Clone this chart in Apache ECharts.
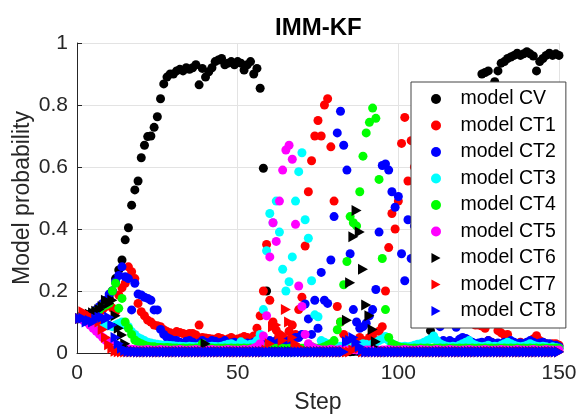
<!DOCTYPE html>
<html>
<head>
<meta charset="utf-8">
<script src="https://cdn.jsdelivr.net/npm/echarts@6/dist/echarts.min.js"></script>
<style>
  html, body { margin: 0; padding: 0; background: #fff; }
  #chart { width: 576px; height: 415px; }
</style>
</head>
<body>
<div id="chart"></div>
<script>
// model probabilities per step (1..150)
const modelCV = [
  .111,.11,.112,.118,.125,.13,.14,.155,.165,.18,
  .2,.24,.268,.3,.365,.404,.477,.526,.555,.63,
  .67,.698,.7,.728,.762,.82,.868,.89,.9,.9,
  .91,.915,.91,.92,.915,.92,.93,.865,.918,.89,
  .907,.92,.94,.945,.95,.93,.935,.94,.93,.94,
  .935,.913,.93,.94,.9,.918,.854,.596,.2,.02,
  .008,.005,.004,.005,.004,.005,.004,.006,.005,.004,
  .005,.004,.005,.004,.006,.005,.004,.005,.004,.005,
  .004,.005,.004,.005,.004,.005,.006,.004,.005,.004,
  .005,.004,.005,.004,.005,.004,.005,.004,.005,.004,
  .005,.004,.005,.006,.005,.004,.005,.006,.005,.072,
  .15,.22,.3,.38,.46,.55,.62,.7,.75,.78,
  .8,.82,.84,.86,.86,.9,.905,.91,.86,.875,
  .91,.935,.94,.95,.955,.96,.967,.96,.965,.972,
  .965,.958,.91,.94,.95,.96,.967,.96,.965,.96
];
const modelCT1 = [
  .111,.11,.108,.112,.118,.125,.13,.14,.15,.155,
  .145,.133,.187,.21,.225,.278,.262,.24,.16,.133,
  .12,.106,.1,.09,.088,.085,.075,.069,.065,.061,
  .069,.066,.063,.06,.063,.063,.058,.09,.05,.048,
  .047,.045,.044,.05,.047,.04,.045,.05,.042,.045,
  .048,.053,.05,.045,.055,.08,.12,.2,.35,.17,
  .1,.074,.06,.053,.042,.07,.09,.06,.14,.18,
  .345,.52,.62,.7,.75,.7,.8,.82,.665,.49,
  .15,.1,.06,.04,.03,.035,.03,.05,.04,.035,
  .05,.06,.04,.07,.085,.2,.34,.45,.4,.49,
  .676,.76,.555,.685,.6,.52,.45,.32,.3,.25,
  .22,.2,.18,.17,.15,.14,.13,.12,.12,.11,
  .1,.1,.095,.09,.09,.087,.08,.04,.035,.03,
  .072,.065,.058,.06,.035,.03,.03,.035,.03,.03,
  .035,.045,.056,.04,.035,.03,.028,.03,.03,.025
];
const modelCT2 = [
  .111,.115,.12,.125,.13,.14,.15,.16,.17,.19,
  .2,.23,.25,.278,.246,.24,.139,.225,.19,.187,
  .18,.176,.17,.139,.139,.076,.06,.05,.045,.04,
  .04,.035,.03,.038,.04,.035,.03,.032,.04,.035,
  .03,.04,.038,.032,.035,.04,.03,.032,.035,.03,
  .035,.03,.032,.03,.035,.03,.03,.03,.035,.04,
  .035,.04,.035,.03,.035,.04,.04,.05,.05,.06,
  .158,.11,.06,.17,.08,.26,.17,.16,.3,.44,
  .71,.78,.67,.59,.32,.14,.1,.08,.085,.096,
  .12,.14,.205,.39,.605,.61,.59,.52,.47,.505,
  .32,.233,.43,.305,.41,.35,.3,.25,.2,.15,
  .12,.11,.085,.04,.035,.04,.035,.083,.044,.05,
  .047,.04,.035,.03,.032,.035,.03,.04,.035,.03,
  .032,.03,.035,.03,.04,.035,.03,.032,.03,.035,
  .04,.035,.03,.032,.035,.03,.03,.025,.025,.02
];
const modelCT3 = [
  .111,.11,.108,.105,.1,.098,.095,.09,.09,.088,
  .085,.09,.095,.1,.09,.085,.069,.06,.05,.045,
  .04,.035,.032,.03,.028,.027,.025,.025,.024,.023,
  .022,.022,.021,.02,.022,.021,.02,.022,.02,.021,
  .02,.022,.021,.02,.022,.025,.028,.03,.025,.022,
  .036,.03,.025,.028,.03,.04,.06,.14,.33,.45,
  .42,.49,.39,.27,.2,.23,.31,.49,.585,.646,
  .43,.37,.233,.123,.117,.04,.035,.03,.025,.022,
  .02,.022,.02,.025,.022,.02,.022,.025,.03,.028,
  .025,.03,.035,.04,.045,.053,.04,.03,.025,.022,
  .02,.022,.02,.022,.025,.028,.03,.035,.04,.045,
  .055,.04,.03,.025,.022,.02,.022,.02,.025,.03,
  .035,.04,.03,.025,.022,.02,.022,.025,.02,.022,
  .02,.025,.03,.035,.03,.025,.022,.02,.022,.025,
  .03,.025,.022,.02,.022,.02,.018,.02,.018,.015
];
const modelCT4 = [
  .111,.115,.12,.125,.13,.135,.14,.15,.155,.16,
  .2,.225,.144,.176,.1,.08,.06,.042,.035,.03,
  .025,.022,.02,.02,.018,.018,.017,.018,.017,.016,
  .016,.015,.016,.015,.016,.015,.016,.015,.03,.016,
  .015,.016,.015,.016,.015,.016,.015,.016,.015,.016,
  .015,.016,.015,.016,.015,.016,.02,.02,.015,.014,
  .014,.015,.014,.015,.014,.015,.014,.015,.014,.015,
  .016,.018,.02,.016,.015,.016,.02,.025,.03,.04,
  .075,.1,.22,.295,.44,.42,.41,.52,.635,.71,
  .744,.79,.757,.56,.305,.14,.05,.03,.025,.02,
  .018,.017,.016,.015,.016,.015,.016,.015,.016,.015,
  .016,.015,.016,.015,.016,.015,.016,.015,.016,.015,
  .016,.015,.016,.015,.016,.015,.016,.015,.016,.015,
  .016,.015,.016,.015,.016,.015,.016,.015,.016,.015,
  .016,.015,.016,.015,.016,.015,.016,.015,.016,.015
];
const modelCT5 = [
  .111,.105,.1,.09,.08,.07,.06,.05,.04,.035,
  .03,.025,.02,.018,.015,.013,.012,.011,.01,.01,
  .01,.011,.01,.009,.01,.011,.01,.01,.009,.01,
  .01,.011,.01,.009,.01,.01,.011,.01,.009,.01,
  .01,.011,.01,.01,.009,.01,.011,.01,.01,.009,
  .01,.011,.01,.012,.015,.02,.03,.055,.12,.31,
  .42,.36,.49,.59,.655,.67,.625,.415,.216,.15,
  .06,.03,.02,.015,.012,.01,.01,.01,.012,.01,
  .01,.011,.01,.009,.01,.011,.01,.01,.009,.01,
  .01,.011,.01,.009,.01,.01,.011,.01,.009,.01,
  .01,.011,.01,.01,.009,.01,.011,.01,.01,.009,
  .01,.011,.01,.009,.01,.011,.01,.01,.009,.01,
  .01,.011,.01,.009,.01,.01,.011,.01,.009,.01,
  .01,.011,.01,.01,.009,.01,.011,.01,.01,.009,
  .01,.011,.01,.009,.01,.011,.01,.01,.009,.01
];
const modelCT6 = [
  .111,.115,.12,.125,.13,.135,.14,.15,.17,.16,
  .17,.12,.08,.058,.03,.01,.006,.005,.004,.004,
  .004,.004,.004,.004,.004,.004,.004,.004,.004,.004,
  .004,.004,.004,.004,.004,.004,.004,.004,.004,.03,
  .004,.004,.004,.004,.004,.004,.004,.004,.004,.004,
  .004,.004,.004,.004,.004,.004,.004,.004,.004,.004,
  .004,.004,.004,.004,.004,.004,.004,.004,.004,.004,
  .004,.004,.004,.004,.004,.004,.004,.004,.004,.004,
  .004,.004,.004,.106,.227,.375,.46,.39,.27,.155,
  .12,.076,.036,.01,.004,.004,.004,.004,.004,.004,
  .004,.004,.004,.004,.004,.004,.004,.004,.004,.004,
  .004,.004,.004,.004,.004,.004,.004,.004,.004,.004,
  .004,.004,.004,.004,.004,.004,.004,.004,.004,.004,
  .004,.004,.004,.004,.004,.004,.004,.004,.004,.004,
  .004,.004,.004,.004,.004,.004,.004,.004,.004,.004
];
const modelCT7 = [
  .111,.133,.125,.12,.11,.105,.1,.076,.05,.027,
  .015,.006,.004,.003,.003,.003,.003,.003,.003,.003,
  .003,.003,.003,.003,.003,.003,.003,.003,.003,.003,
  .003,.003,.003,.003,.003,.003,.003,.003,.003,.003,
  .003,.003,.003,.003,.003,.003,.003,.003,.003,.003,
  .003,.003,.003,.003,.003,.003,.003,.003,.01,.03,
  .085,.09,.06,.04,.14,.1,.05,.03,.02,.01,
  .003,.003,.003,.003,.003,.003,.003,.003,.003,.003,
  .003,.003,.003,.003,.003,.01,.02,.015,.003,.003,
  .003,.003,.003,.003,.003,.003,.003,.003,.003,.003,
  .003,.003,.003,.003,.003,.003,.003,.003,.003,.003,
  .003,.003,.003,.003,.003,.003,.003,.003,.003,.003,
  .003,.003,.003,.003,.003,.003,.003,.003,.003,.003,
  .003,.003,.003,.003,.003,.003,.003,.003,.003,.003,
  .003,.003,.003,.003,.003,.003,.003,.003,.003,.003
];
const modelCT8 = [
  .111,.112,.1,.105,.1,.11,.115,.115,.11,.115,
  .09,.05,.03,.015,.008,.005,.004,.004,.003,.003,
  .003,.003,.003,.003,.003,.003,.003,.003,.003,.003,
  .003,.003,.003,.003,.003,.003,.003,.003,.003,.003,
  .003,.003,.003,.003,.003,.003,.003,.003,.003,.003,
  .003,.003,.003,.003,.003,.003,.003,.003,.003,.003,
  .003,.003,.003,.003,.003,.003,.003,.003,.003,.003,
  .003,.003,.003,.003,.003,.003,.003,.003,.003,.003,
  .003,.003,.003,.036,.04,.05,.035,.02,.01,.003,
  .003,.003,.003,.003,.003,.003,.003,.003,.003,.003,
  .003,.003,.003,.003,.003,.003,.003,.003,.003,.003,
  .003,.003,.003,.003,.003,.003,.003,.003,.003,.003,
  .003,.003,.003,.003,.003,.003,.003,.003,.003,.003,
  .003,.003,.003,.003,.003,.003,.003,.003,.003,.003,
  .003,.003,.003,.003,.003,.003,.003,.003,.003,.003
];

const seriesNames = ['model CV', 'model CT1', 'model CT2', 'model CT3', 'model CT4',
  'model CT5', 'model CT6', 'model CT7', 'model CT8'];
const seriesValues = [modelCV, modelCT1, modelCT2, modelCT3, modelCT4,
  modelCT5, modelCT6, modelCT7, modelCT8];
const seriesColors = ['#000000', '#ff0000', '#0000ff', '#00ffff', '#00ff00',
  '#ff00ff', '#000000', '#ff0000', '#0000ff'];
const xTicks = [0, 50, 100, 150];

const triRight = 'path://M0,0L10,5.5L0,11Z';
const textColor = '#262626';
const fontFamily = '"Liberation Sans", Arial, sans-serif';

const chart = echarts.init(document.getElementById('chart'), null, { renderer: 'canvas' });

const series = seriesNames.map((name, k) => ({
  name,
  type: 'scatter',
  symbol: k < 6 ? 'circle' : triRight,
  symbolSize: k < 6 ? 9 : [10, 11],
  itemStyle: { color: seriesColors[k], opacity: 1 },
  data: seriesValues[k].map((v, i) => [i + 1, v]),
  silent: true,
}));

chart.setOption({
  animation: false,
  textStyle: { fontFamily },
  title: {
    text: 'IMM-KF',
    left: 275,
    top: 16,
    padding: 0,
    textStyle: { fontSize: 24, fontWeight: 'bold', color: '#000', fontFamily },
  },
  grid: { left: 77, right: 17, top: 43, bottom: 62, outerBoundsMode: 'none' },
  legend: {
    data: seriesNames,
    orient: 'vertical',
    left: 411,
    top: 82,
    padding: [7, 10, 7, 20],
    itemGap: 6.5,
    itemWidth: 39,
    itemHeight: 10,
    backgroundColor: '#fff',
    borderColor: '#444',
    borderWidth: 1,
    selectedMode: false,
    textStyle: { fontSize: 19.5, lineHeight: 20, color: '#000', fontFamily },
  },
  xAxis: {
    type: 'value',
    min: xTicks[0],
    max: xTicks[xTicks.length - 1],
    interval: 50,
    name: 'Step',
    nameLocation: 'middle',
    nameGap: 38,
    nameMoveOverlap: false,
    nameTextStyle: { fontSize: 23, color: textColor, fontFamily },
    axisLine: { lineStyle: { color: textColor, width: 1 } },
    axisTick: { inside: true, length: 5, lineStyle: { color: textColor } },
    axisLabel: { fontSize: 21, color: textColor, margin: 10, fontFamily },
    splitLine: { show: true, lineStyle: { color: '#e3e3e3', width: 1 } },
  },
  yAxis: {
    type: 'value',
    min: 0,
    max: 1,
    interval: 0.2,
    name: 'Model probability',
    nameLocation: 'middle',
    nameGap: 43,
    nameMoveOverlap: false,
    nameTextStyle: { fontSize: 23, color: textColor, fontFamily },
    axisLine: { show: true, lineStyle: { color: textColor, width: 1 } },
    axisTick: { show: true, inside: true, length: 5, lineStyle: { color: textColor } },
    axisLabel: { fontSize: 21, color: textColor, margin: 9, fontFamily },
    splitLine: { show: true, lineStyle: { color: '#e3e3e3', width: 1 } },
  },
  series,
});
</script>
</body>
</html>
